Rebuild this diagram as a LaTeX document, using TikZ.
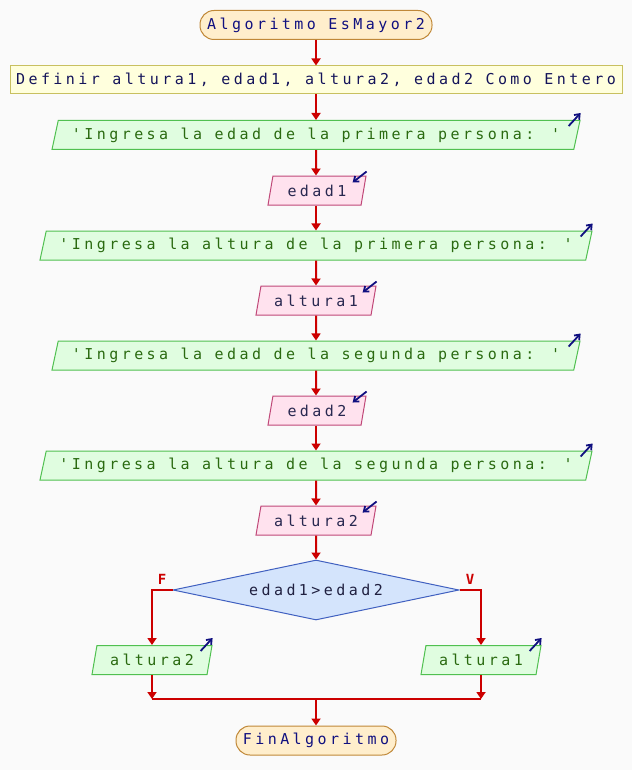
\documentclass[tikz,border=0pt]{standalone}
\usepackage{fontspec}
\newfontfamily\psmono[LetterSpace=23]{DejaVu Sans Mono}
\usepackage{xcolor}
\usepackage{tikz}
\usetikzlibrary{shapes.geometric, arrows.meta, positioning, calc}

\definecolor{bgcol}{HTML}{FAFAFA}
\definecolor{flowred}{HTML}{CC0000}
\definecolor{iconblue}{HTML}{101080}
\definecolor{startfill}{HTML}{FFEECC}
\definecolor{startdraw}{HTML}{C08838}
\definecolor{deffill}{HTML}{FFFFDD}
\definecolor{defdraw}{HTML}{C8C060}
\definecolor{outfill}{HTML}{E0FDE0}
\definecolor{outdraw}{HTML}{50C050}
\definecolor{outtext}{HTML}{2A6A10}
\definecolor{infill}{HTML}{FFE2EE}
\definecolor{indraw}{HTML}{C04878}
\definecolor{condfill}{HTML}{D4E4FC}
\definecolor{conddraw}{HTML}{4060C0}

\begin{document}
\begin{tikzpicture}[x=1pt, y=-1pt,
        base/.style={font={\psmono\fontsize{15}{17}\selectfont}, line width=1pt, inner xsep=2pt, inner ysep=0pt},
        term/.style={base, draw=startdraw, fill=startfill, text=iconblue, rounded corners=14pt, minimum height=29pt},
        defbox/.style={base, draw=defdraw, fill=deffill, text={rgb,255:red,20;green,20;blue,90}, minimum width=612pt, minimum height=28pt},
        para/.style={base, trapezium, trapezium left angle=67, trapezium right angle=113, trapezium stretches body, minimum height=29pt},
        outbox/.style={para, draw=outdraw, fill=outfill, text=outtext},
        inbox/.style={para, draw=indraw, fill=infill, text={rgb,255:red,40;green,40;blue,80}},
        cond/.style={base, diamond, draw=conddraw, fill=condfill, text={rgb,255:red,32;green,32;blue,64}, minimum width=286pt, minimum height=60pt, aspect=4.77, inner sep=0pt},
        arrow/.style={-{Triangle[length=7pt, width=9pt]}, line width=2pt, draw=flowred},
        flow/.style={line width=2pt, draw=flowred},
        icon/.style={-{Straight Barb[length=4.5pt, width=7pt]}, line width=1.8pt, draw=iconblue},
        branch/.style={text=flowred, font={\psmono\bfseries\fontsize{14}{14}\selectfont}}
    ]
        \fill[bgcol] (0,0) rectangle (632,770);
        \useasboundingbox (0,0) rectangle (632,770);

        % Start and declarations
        \node[term, minimum width=232pt] (start) at (316, 25) {Algoritmo EsMayor2};
        \node[defbox] (def) at (316, 80) {Definir altura1, edad1, altura2, edad2 Como Entero};

        % Reading the four values
        \node[outbox, minimum width=528pt] (out1) at (316, 135) {'Ingresa la edad de la primera persona: '};
        \node[inbox, minimum width=98pt] (in1) at (317, 190.5) {edad1};
        \node[outbox, minimum width=552pt] (out2) at (316, 245.5) {'Ingresa la altura de la primera persona: '};
        \node[inbox, minimum width=120pt] (in2) at (316, 300.5) {altura1};
        \node[outbox, minimum width=528pt] (out3) at (316, 355.5) {'Ingresa la edad de la segunda persona: '};
        \node[inbox, minimum width=98pt] (in3) at (317, 410.5) {edad2};
        \node[outbox, minimum width=552pt] (out4) at (316, 465.5) {'Ingresa la altura de la segunda persona: '};
        \node[inbox, minimum width=120pt] (in4) at (316, 520.5) {altura2};

        % Decision
        \node[cond] (test) at (316, 590) {edad1>edad2};
        \node[branch] (lblF) at (162, 579) {F};
        \node[branch] (lblV) at (470, 579) {V};
        \node[outbox, minimum width=120pt] (out5) at (152, 660) {altura2};
        \node[outbox, minimum width=120pt] (out6) at (481, 660) {altura1};

        \coordinate (joinL) at (152, 699);
        \coordinate (joinR) at (481, 699);
        \coordinate (joinC) at (316, 699);

        \node[term, minimum width=160pt] (stop) at (316, 740.5) {FinAlgoritmo};

        % Connectors
        \draw[arrow] (start) -- (def);
        \draw[arrow] (def) -- (out1);
        \draw[arrow] (out1) -- (out1 |- in1.north);
        \draw[arrow] (in1.south -| out1) -- (out1 |- out2.north);
        \draw[arrow] (out2) -- (out2 |- in2.north);
        \draw[arrow] (in2) -- (out3);
        \draw[arrow] (out3) -- (out3 |- in3.north);
        \draw[arrow] (in3.south -| out3) -- (out3 |- out4.north);
        \draw[arrow] (out4) -- (in4);
        \draw[arrow] (in4) -- (test);
        \draw[arrow] (test.west) -| (out5.north);
        \draw[arrow] (test.east) -| (out6.north);
        \draw[arrow] (out5) -- (joinL);
        \draw[arrow] (out6) -- (joinR);
        \draw[flow] (joinL) -- (joinR);
        \draw[arrow] (joinC) -- (stop);

        % Output / input marks
        \foreach \o in {out1, out2, out3, out4, out5, out6}
            \draw[icon] ($(\o.top right corner)+(-12,6)$) -- ($(\o.top right corner)+(0,-7)$);
        \foreach \i in {in1, in2, in3, in4}
            \draw[icon] ($(\i.top right corner)+(0,-4)$) -- ($(\i.top right corner)+(-14,7)$);
    \end{tikzpicture}
\end{document}
